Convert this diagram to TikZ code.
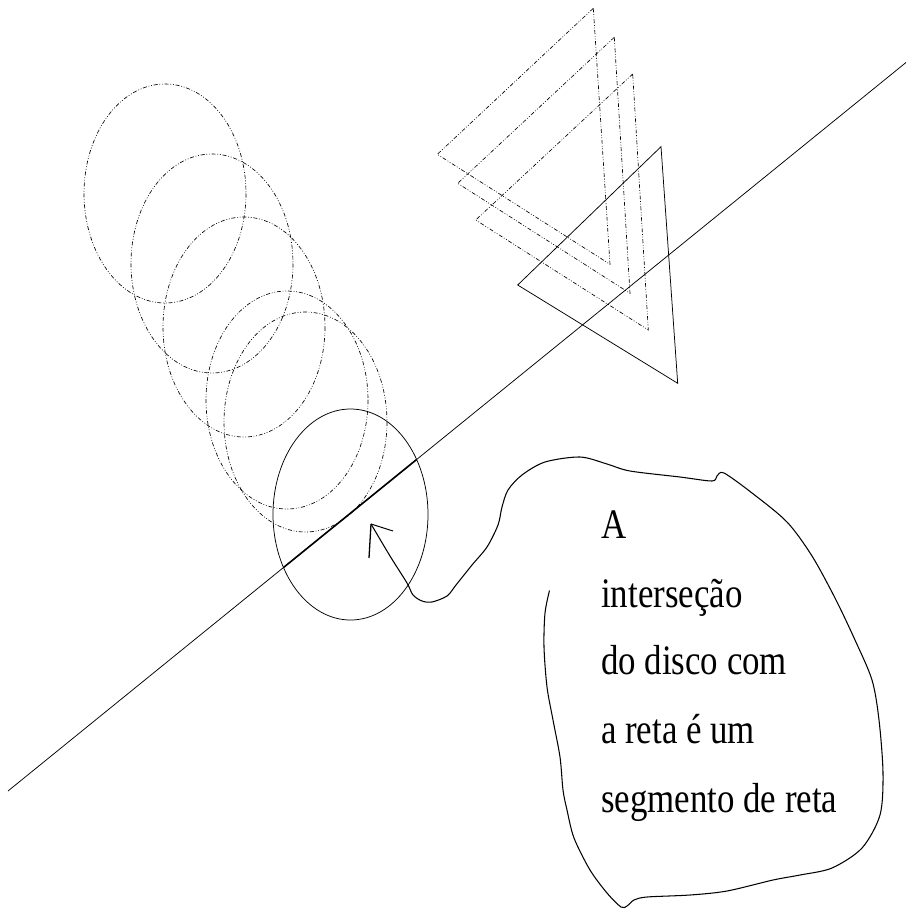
\documentclass[tikz,border=0pt]{standalone}
\usepackage{fontspec}
\newfontfamily\txtfont[FakeStretch=0.83]{Liberation Serif}
\begin{document}
\begin{tikzpicture}[x=1pt,y=-1pt,
  ghost/.style={line width=0.65pt,black,dash pattern=on 4pt off 1.8pt on 0.8pt off 1.8pt on 0.8pt off 1.8pt},
  solidline/.style={line width=0.75pt,black},
  txt/.style={anchor=base west,inner sep=0pt,font=\txtfont\fontsize{42}{50}\selectfont}]
\useasboundingbox (0,0) rectangle (906,910);
% dashed ellipses
\draw[ghost] (165,193.5) ellipse [x radius=81, y radius=109.5];
\draw[ghost] (212,263.5) ellipse [x radius=81, y radius=109.5];
\draw[ghost] (244,327) ellipse [x radius=81, y radius=110];
\draw[ghost] (287,400) ellipse [x radius=81, y radius=109];
\draw[ghost] (305.5,422) ellipse [x radius=81.5, y radius=110];
% solid disc
\coordinate (disc) at (350.5,514.5);
\draw[solidline] (disc) ellipse [x radius=77.5, y radius=105.5];
% the straight line
\coordinate (la) at (8,791);
\coordinate (lb) at (906,62.5);
\draw[solidline] (la) -- (lb);
\begin{scope}
  \clip (disc) ellipse [x radius=77.5, y radius=105.5];
  \draw[line width=1.6pt] (la) -- (lb);
\end{scope}
% dashed triangles
\draw[ghost] (593.3,8.3) -- (437.3,154.3) -- (610,264.3) -- cycle;
\draw[ghost] (614.3,37.3) -- (457.7,183.3) -- (630,293.3) -- cycle;
\draw[ghost] (632.7,74) -- (475.7,220) -- (648.3,330) -- cycle;
% solid triangle
\draw[solidline] (661,146.7) -- (517.7,285) -- (677.7,383.3) -- cycle;
% text
\node[txt] (t1) at (601,538) {A};
\node[txt] (t2) at (601,607) {interseção};
\node[txt] (t3) at (601,674) {do disco com};
\node[txt] (t4) at (601,743) {a reta é um};
\node[txt] (t5) at (601,812) {segmento de reta};
% arrow tip and callout
\coordinate (tip) at (371,524);
\draw[line width=1pt] (tip) -- (393,531);
\draw[line width=1.3pt] (tip) -- (369,558);
\draw[line width=1.05pt,line join=round] plot[smooth,tension=0.5] coordinates {
 (371,524) (390,556) (407,583) (413,595) (422,601) (432,602) (447,596) (456,585)
 (472,565) (487,547) (498,525) (502,507) (508,490) (522,475) (545,462) (580,457)
 (607,464) (630,471) (680,477) (712,481) (717,476) (724,473) (752,493) (787,522)
 (812,556) (835,598) (855,640) (872,680) (879,720) (883,773) (880,815) (862,848)
 (832,868) (800,875) (773,880) (727,891) (690,895) (647,897) (634,900) (627,906)
 (621,907) (607,893) (590,870) (574,838) (567,810) (563,790) (560,757) (553,720)
 (547,687) (544,647) (545,613) (549.5,590.5)};
\end{tikzpicture}
\end{document}
